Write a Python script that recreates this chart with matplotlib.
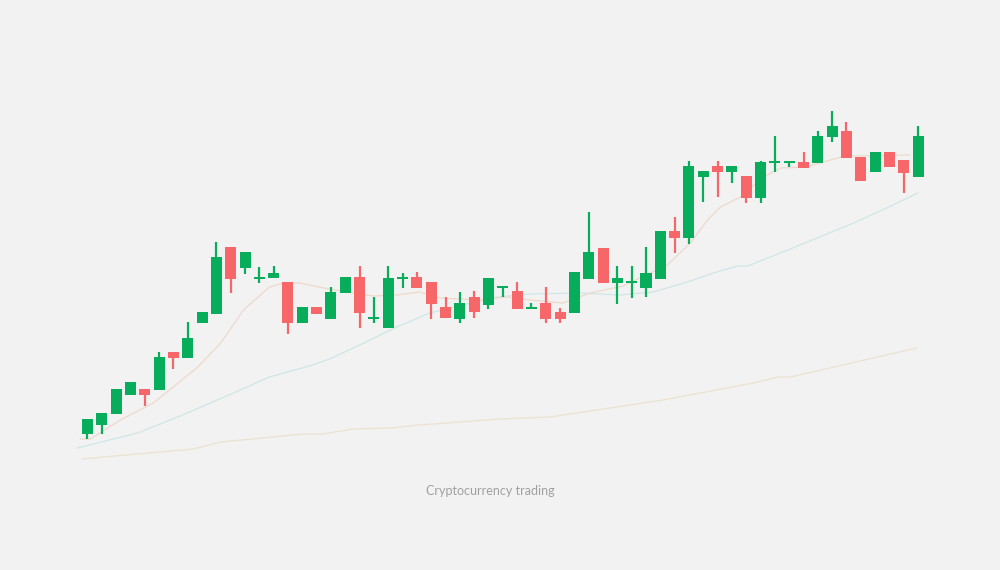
import matplotlib
matplotlib.use("Agg")
import matplotlib.pyplot as plt
from matplotlib.patches import Rectangle

# candle data (open, high, low, close) -- one row per session
opens  = [166, 175, 186, 205, 211, 210, 248, 242, 277, 286, 353, 332, 321, 322, 318, 277, 293, 281, 307, 323,
          281, 272, 321, 323, 318, 293, 281, 303, 295, 312, 309, 291, 297, 288, 287, 321, 352, 317, 317, 312,
          321, 369, 362, 423, 434, 428, 424, 402, 437, 437, 438, 437, 463, 469, 443, 428, 448, 440, 423]
highs  = [181, 187, 211, 218, 211, 248, 248, 278, 288, 358, 353, 348, 333, 334, 318, 293, 293, 313, 323, 334,
          303, 334, 327, 328, 318, 303, 308, 309, 322, 314, 318, 297, 313, 292, 328, 388, 352, 334, 334, 353,
          369, 383, 439, 429, 439, 434, 424, 439, 464, 439, 448, 469, 489, 478, 443, 448, 448, 440, 474]
lows   = [161, 166, 186, 205, 194, 210, 231, 242, 277, 286, 307, 326, 317, 322, 266, 277, 286, 281, 307, 272,
          277, 272, 312, 312, 281, 282, 277, 282, 291, 303, 291, 291, 277, 277, 287, 321, 317, 296, 302, 303,
          321, 347, 356, 398, 403, 417, 397, 397, 428, 433, 432, 437, 458, 442, 419, 428, 433, 407, 423]
closes = [181, 187, 211, 218, 205, 243, 242, 262, 288, 343, 321, 348, 323, 327, 277, 293, 286, 308, 323, 287,
          283, 322, 323, 312, 296, 282, 297, 288, 322, 314, 291, 293, 281, 281, 328, 348, 317, 322, 319, 327,
          369, 362, 434, 429, 428, 434, 402, 438, 439, 439, 432, 464, 474, 442, 419, 448, 433, 427, 464]

# moving average traces (candle index, value)
ma_short_x = [-0.5, 0.2, 2.3, 4.6, 7.7, 9.3, 10.9, 12.7, 13.7, 14.8, 16.5, 18.1, 19.9, 21.6, 23.2, 24.6, 27.4,
              29.3, 30.9, 33.2, 35.1, 37.4, 40.5, 42.1, 43.3, 44.2, 45.6, 47.2, 48.4, 50.2, 52.6, 53.5, 57.4]
ma_short_y = [161, 161, 180, 197, 233, 257, 290, 313, 317, 317, 312, 308, 304, 305, 308, 302, 300,
              303, 300, 297, 307, 314, 335, 357, 380, 393, 403, 423, 432, 433, 443, 444, 445]
ma_mid_x = [-0.7, 3.5, 6.3, 10.2, 12.7, 15.5, 16.9, 19.3, 21.6, 23.9, 26.2, 28.6, 30.9, 34.4, 37.2, 39.5,
            41.9, 43.7, 45.4, 46.1, 48.9, 53.5, 55.8, 58.0]
ma_mid_y = [152, 167, 183, 207, 223, 234, 241, 257, 273, 287, 295, 303, 306, 307, 305, 308,
            318, 327, 334, 334, 350, 377, 392, 407]
ma_long_x = [-0.4, 7.4, 9.3, 15.1, 16.5, 18.5, 21.1, 23.2, 28.8, 32.3, 40.2, 46.5, 48.2, 49.1, 57.9]
ma_long_y = [141, 151, 158, 166, 166, 171, 172, 175, 181, 183, 200, 217, 223, 223, 252]

caption = "Cryptocurrency trading"

bg = "#f2f2f2"
up_color = "#08ad5b"
down_color = "#f7676a"

fig = plt.figure(figsize=(10, 5.7), dpi=100, facecolor=bg)
ax = fig.add_axes([0, 0, 1, 1])
ax.set_facecolor(bg)

# moving averages (drawn under the candles, very faint)
ax.plot(ma_long_x, ma_long_y, color="#ece2cf", lw=0.9, zorder=1)
ax.plot(ma_mid_x, ma_mid_y, color="#cfe6e6", lw=0.9, zorder=1)
ax.plot(ma_short_x, ma_short_y, color="#eed9cb", lw=0.9, zorder=1)

body_w = 0.77
for i, (o, h, l, c) in enumerate(zip(opens, highs, lows, closes)):
    col = up_color if c >= o else down_color
    ax.plot([i, i], [l, h], color=col, lw=1.6, solid_capstyle="butt", zorder=2)
    bottom = min(o, c)
    height = max(abs(c - o), 1.8)
    ax.add_patch(Rectangle((i - body_w / 2, bottom), body_w, height,
                           facecolor=col, edgecolor="none", zorder=3))

ax.text(28.1, 109, caption, ha="center", va="center", fontsize=9,
        color="#a0a0a0", family="Lato")

ax.set_xlim(-6.11, 63.72)
ax.set_ylim(30, 600)
ax.axis("off")

fig.savefig("out.png", dpi=100, facecolor=bg)
